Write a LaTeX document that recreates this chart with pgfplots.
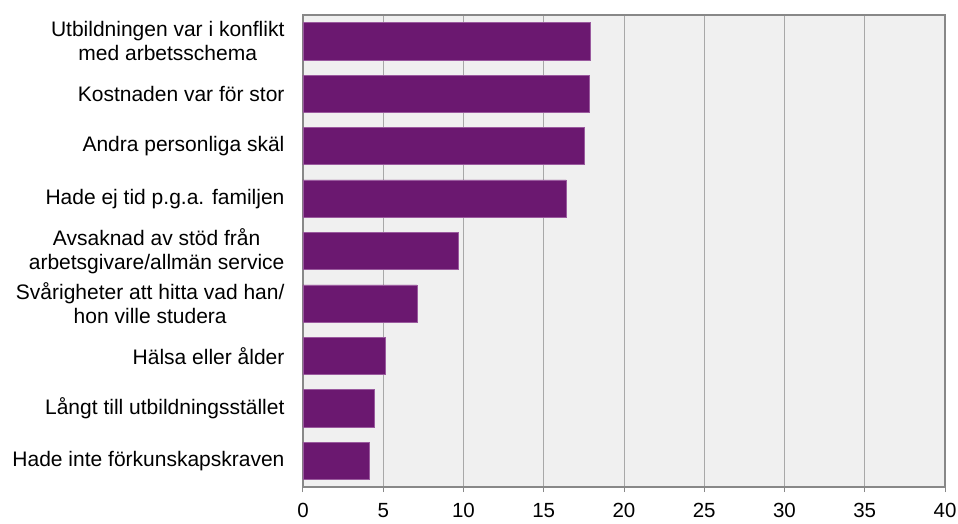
\documentclass[border=0pt]{standalone}
\usepackage{pgfplots}
\pgfplotsset{compat=1.18}
\usepackage{fontspec}
\setmainfont{Liberation Sans}
\definecolor{barpurple}{HTML}{6B1870}
\definecolor{baredge}{HTML}{9A5A9E}
\definecolor{bgray}{HTML}{F0F0F0}
\definecolor{gridgray}{HTML}{A8A8A8}
\definecolor{axgray}{HTML}{888888}
\begin{document}
\begin{tikzpicture}[x=1pt,y=1pt]
\path[use as bounding box] (-303,-36) rectangle (655,487);
\begin{axis}[
  at={(0,0)}, anchor=south west,
  width=642pt, height=472pt, scale only axis,
  xbar, bar width=37.3pt,
  xmin=0, xmax=40, xtick={0,5,...,40},
  ymin=-0.5, ymax=8.5, y dir=reverse,
  ytick=data,
  yticklabels={{Utbildningen var i konflikt\\med arbetsschema},
    {Kostnaden var för stor},
    {Andra personliga skäl},
    {Hade ej tid p.g.a. familjen},
    {Avsaknad av stöd från\\arbetsgivare/allmän service},
    {Svårigheter att hitta vad han/\\hon ville studera},
    {Hälsa eller ålder},
    {Långt till utbildningsstället},
    {Hade inte förkunskapskraven}},
  yticklabel style={align=center, font=\fontsize{21}{24}\selectfont, text=black, xshift=-10pt},
  xticklabel style={font=\fontsize{20.5}{24}\selectfont, text=black, yshift=-8pt},
  /pgf/number format/assume math mode=true,
  major y tick style={draw=none},
  xtick style={draw=axgray, line width=1pt},
  major tick length=5pt,
  tick align=outside,
  xtick pos=bottom,
  axis background/.style={fill=bgray},
  xmajorgrids, grid style={draw=gridgray, line width=1pt},
  axis line style={draw=axgray, line width=1.2pt},
  axis on top=false,
]
\addplot[fill=barpurple, draw=baredge, line width=0.6pt] coordinates {
  (17.9,0) (17.85,1) (17.5,2) (16.4,3) (9.7,4) (7.1,5) (5.15,6) (4.45,7) (4.1,8)
};
\end{axis}
\end{tikzpicture}
\end{document}
